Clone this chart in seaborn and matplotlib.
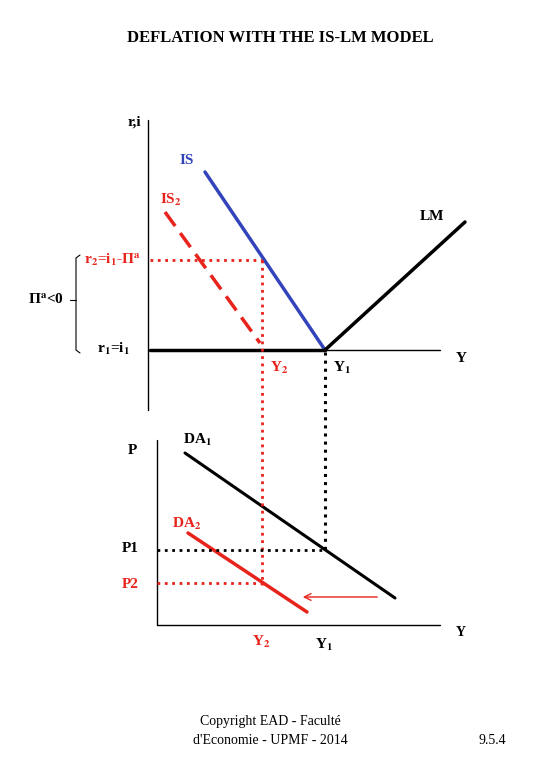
import matplotlib
matplotlib.use("Agg")
import matplotlib.pyplot as plt
import seaborn as sns
import pandas as pd

sns.set_theme(style="white")
plt.rcParams['font.family'] = ['Liberation Serif', 'DejaVu Serif']
plt.rcParams['mathtext.fontset'] = 'stix'
plt.rcParams['mathtext.default'] = 'bf'

# curve endpoints (diagram pixel space)
is_x, is_y = [205, 325], [172, 350]
is2_x, is2_y = [165, 260], [212, 343]
lm_x, lm_y = [325, 465], [350, 222]
r1_x, r1_y = [150, 325], [350, 350]
da1_x, da1_y = [185, 395], [453, 598]
da2_x, da2_y = [188, 307], [533, 612]

fig = plt.figure(figsize=(5.4, 7.8), dpi=100)
ax = fig.add_axes([0, 0, 1, 1])
ax.set_xlim(0, 540); ax.set_ylim(780, 0); ax.axis('off')

def line(xs, ys, **kw):
    sns.lineplot(x=xs, y=ys, ax=ax, sort=False, estimator=None, **kw)

k = 'black'; red = '#e8231c'; blue = '#3344bb'
# axes
line([148, 148], [120, 410], color=k, lw=1)
line([148, 440], [350, 350], color=k, lw=1)
line([157, 157], [440, 625], color=k, lw=1)
line([157, 440], [625, 625], color=k, lw=1)
# curves
line(is_x, is_y, color=blue, lw=2.5)
line(is2_x, is2_y, color=red, lw=2.5, dashes=(5, 2.5))
line(lm_x, lm_y, color=k, lw=2.5)
line(r1_x, r1_y, color=k, lw=2.5)
line(da1_x, da1_y, color=k, lw=2.2)
line(da2_x, da2_y, color=red, lw=2.5)
# guides
line([150, 262], [260, 260], color=red, lw=2, ls=':')
line([262, 262], [260, 585], color=red, lw=2, ls=':')
line([325, 325], [352, 550], color=k, lw=2.2, ls=':')
line([157, 325], [550, 550], color=k, lw=2, ls=':')
line([157, 262], [583, 583], color=red, lw=2, ls=':')
ax.annotate('', xy=(300, 597), xytext=(380, 597),
            arrowprops=dict(arrowstyle='->', color=red, lw=1))
# bracket
line([80, 76, 76, 80], [255, 258, 350, 353], color=k, lw=0.8)
line([70, 76], [300, 300], color=k, lw=0.8)

def t(x, y, s, c=k, size=11, w='bold', ha='left'):
    ax.text(x, y, s, color=c, fontsize=size, fontweight=w, ha=ha, va='center')

t(280, 38, 'DEFLATION WITH THE IS-LM MODEL', size=12, ha='center')
t(128, 122, 'r,i')
t(180, 160, 'IS', blue)
t(160, 200, 'IS$_2$', red)
t(420, 217, 'LM')
t(84, 260, 'r$_2$=i$_1$-Π$^a$', red)
t(28, 300, 'Π$^a$<0')
t(97, 349, 'r$_1$=i$_1$')
t(270, 368, 'Y$_2$', red)
t(333, 368, 'Y$_1$')
t(456, 358, 'Y')
t(128, 450, 'P')
t(183, 440, 'DA$_1$')
t(172, 524, 'DA$_2$', red)
t(122, 549, 'P1')
t(122, 584, 'P2', red)
t(252, 642, 'Y$_2$', red)
t(315, 645, 'Y$_1$')
t(456, 632, 'Y', size=10)
t(270, 722, 'Copyright EAD - Faculté', size=10, w='normal', ha='center')
t(270, 741, "d'Economie - UPMF - 2014", size=10, w='normal', ha='center')
t(492, 740, '9.5.4', size=10, w='normal', ha='center')

fig.savefig('out.png', dpi=100)
